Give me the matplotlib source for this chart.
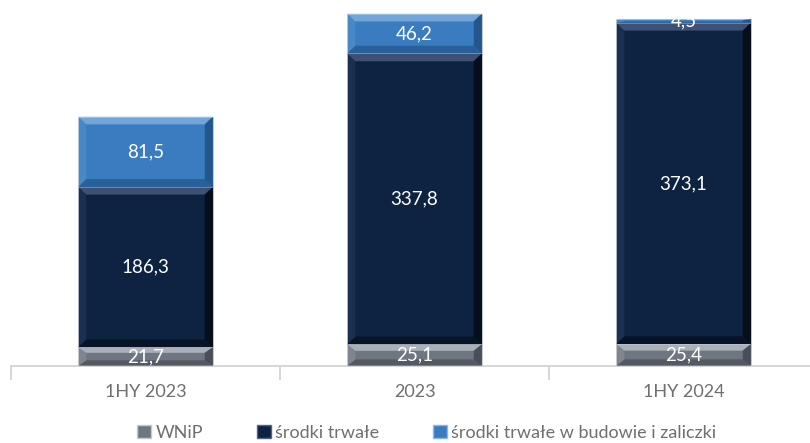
import matplotlib.pyplot as plt
from matplotlib.patches import Polygon, Patch

periods = ["1HY 2023", "2023", "1HY 2024"]
wnip = [21.7, 25.1, 25.4]
srodki = [186.3, 337.8, 373.1]
budowa = [81.5, 46.2, 4.5]
series_names = ["WNiP", "środki trwałe", "środki trwałe w budowie i zaliczki"]

colors = ["#6e7681", "#0e2242", "#3a7cbf"]
light = ["#c4cad1", "#53668a", "#8ab9e6"]
dark = ["#3d434b", "#03080f", "#1d4a7a"]

plt.rcParams['font.family'] = ['Lato', 'DejaVu Sans']


def bevel(ax, x, bottom, height, width, i):
    # fake bevel: lighter strip on top, darker strip at bottom and right side
    bx = width * 0.06
    by = min(height * 0.3, 9.0)
    l, r = x - width / 2, x + width / 2
    t, b = bottom + height, bottom
    ax.add_patch(Polygon([(l, t), (r, t), (r - bx, t - by), (l + bx, t - by)],
                         closed=True, color=light[i], lw=0, alpha=0.7, zorder=3))
    ax.add_patch(Polygon([(l, b), (r, b), (r - bx, b + by), (l + bx, b + by)],
                         closed=True, color=dark[i], lw=0, alpha=0.55, zorder=3))
    ax.add_patch(Polygon([(r, b), (r, t), (r - bx, t - by), (r - bx, b + by)],
                         closed=True, color=dark[i], lw=0, alpha=0.75, zorder=3))
    ax.add_patch(Polygon([(l, b), (l, t), (l + bx, t - by), (l + bx, b + by)],
                         closed=True, color=light[i], lw=0, alpha=0.2, zorder=3))


def main():
    fig = plt.figure(figsize=(8.1, 4.43), dpi=100)
    ax = fig.add_axes([0.0136, 0.174, 0.9864, 0.826])

    xs = list(range(len(periods)))
    width = 0.5
    bottoms = [0.0] * len(periods)
    for i, vals in enumerate([wnip, srodki, budowa]):
        ax.bar(xs, vals, width, bottom=bottoms, color=colors[i],
               edgecolor="#c8ccd2", linewidth=0.6, zorder=2)
        for x, b, v in zip(xs, bottoms, vals):
            bevel(ax, x, b, v, width, i)
            ax.text(x, b + v / 2, f"{v:.1f}".replace(".", ","),
                    ha="center", va="center", color="white",
                    fontsize=13.5, zorder=5)
        bottoms = [b + v for b, v in zip(bottoms, vals)]

    ax.set_ylim(0, 425)
    ax.set_xlim(-0.5, 2.47)
    ax.set_yticks([])
    for s in ["top", "right", "left"]:
        ax.spines[s].set_visible(False)
    ax.spines["bottom"].set_color("#d0d0d0")
    ax.spines["bottom"].set_linewidth(1.2)

    ax.set_xticks([-0.5, 0.5, 1.5], minor=False)
    ax.set_xticklabels([])
    ax.tick_params(axis="x", length=10, color="#d0d0d0", width=1.2)
    for x, p in zip(xs, periods):
        ax.text(x, -0.07, p, transform=ax.get_xaxis_transform(),
                ha="center", va="center", color="#6f6f6f", fontsize=13)

    handles = [Patch(facecolor=colors[i], edgecolor=light[i]) for i in range(3)]
    fig.legend(handles, series_names, loc="center", bbox_to_anchor=(0.527, 0.023),
               ncol=3, frameon=False, fontsize=13, labelcolor="#6f6f6f",
               handlelength=0.75, handleheight=0.75, handletextpad=0.25,
               columnspacing=3.0)

    fig.savefig("out.png", dpi=100)
    plt.close("all")


if __name__ == "__main__":
    main()
